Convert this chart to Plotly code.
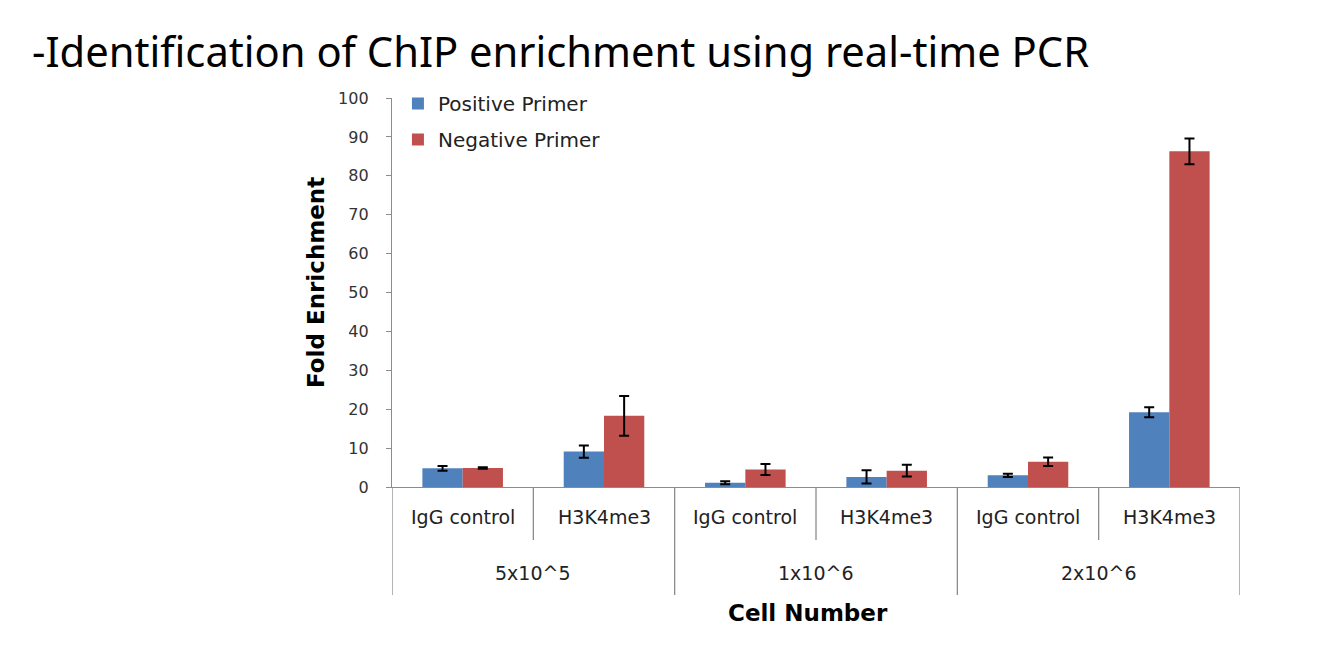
import plotly.graph_objects as go

groups = ["5x10^5", "1x10^6", "2x10^6"]
subs = ["IgG control", "H3K4me3"]
positive = [4.8, 9.1, 1.1, 2.6, 3.0, 19.2]
positive_err = [0.6, 1.6, 0.4, 1.7, 0.4, 1.3]
negative = [4.9, 18.3, 4.5, 4.2, 6.5, 86.3]
negative_err = [0.2, 5.1, 1.4, 1.5, 1.1, 3.3]
y_ticks = list(range(0, 101, 10))

n = len(positive)
xpos = list(range(n))
font = "DejaVu Sans"
tfont = "Noto Sans"

# page offset of 8px (body margin) compensated
W, H = 1311, 638
L, R, T, B = 384, 79, 90, 159
PW = W - L - R
PH = H - T - B


def px(xp):
    return (xp - 8 - L) / PW


def py(yp):
    return 1 - (yp - 8 - T) / PH


fig = go.Figure()
fig.add_trace(go.Bar(
    x=xpos, y=positive, name="Positive Primer", marker_color="#4F81BD",
    marker_line_width=0, legendgroup="a",
    error_y=dict(type="data", array=positive_err, color="black", thickness=2, width=5),
))
fig.add_trace(go.Bar(
    x=xpos, y=negative, name="Negative Primer", marker_color="#C0504D",
    marker_line_width=0, legendgroup="b",
    error_y=dict(type="data", array=negative_err, color="black", thickness=2, width=5),
))

line_col = "#8c8c8c"
shapes = []
for i in range(n + 1):
    b = i - 0.5
    outer = (i % 2 == 0)
    shapes.append(dict(type="line", xref="x", yref="paper", x0=b, x1=b,
                       y0=0, y1=py(595) if outer else py(540),
                       line=dict(color=line_col, width=1.3)))
annotations = []
for i in range(n):
    annotations.append(dict(x=i, y=py(517), xref="x", yref="paper", text=subs[i % 2],
                            xanchor="center", yanchor="middle",
                            showarrow=False, font=dict(family=font, size=19, color="#222222")))
for g, name in enumerate(groups):
    annotations.append(dict(x=2 * g + 0.5, y=py(573), xref="x", yref="paper", text=name,
                            xanchor="center", yanchor="middle",
                            showarrow=False, font=dict(family=font, size=19, color="#222222")))
annotations.append(dict(x=px(808), y=py(613), xref="paper", yref="paper", text="<b>Cell Number</b>",
                        xanchor="center", yanchor="middle",
                        showarrow=False, font=dict(family=font, size=23, color="black")))
annotations.append(dict(x=px(316), y=py(283), xref="paper", yref="paper", text="<b>Fold Enrichment</b>",
                        xanchor="center", yanchor="middle", textangle=-90,
                        showarrow=False, font=dict(family=font, size=23, color="black")))
annotations.append(dict(x=px(30), y=py(50), xref="paper", yref="paper", xanchor="left", yanchor="middle",
                        text="-Identification of ChIP enrichment using real-time PCR",
                        showarrow=False, font=dict(family=tfont, size=41.7, color="black")))

fig.update_layout(
    width=W, height=H,
    margin=dict(l=L, r=R, t=T, b=B),
    paper_bgcolor="white", plot_bgcolor="white",
    barmode="group", bargap=0.43, bargroupgap=0,
    showlegend=True,
    legend=dict(x=0.007, y=1.036, xanchor="left", yanchor="top", bgcolor="rgba(0,0,0,0)",
                font=dict(family=font, size=20, color="#222222"), tracegroupgap=7,
                itemwidth=30),
    xaxis=dict(range=[-0.5, n - 0.5], showticklabels=False, showgrid=False, zeroline=False,
               showline=True, linecolor=line_col, linewidth=1.3, ticks=""),
    yaxis=dict(range=[0, 100], tickvals=y_ticks, showgrid=False, zeroline=False,
               showline=True, linecolor=line_col, linewidth=1.3, ticks="outside",
               ticklen=5, tickcolor=line_col, ticklabelstandoff=14,
               tickfont=dict(family=font, size=16, color="#333333")),
    shapes=shapes, annotations=annotations,
)

fig.write_html("out.html")
